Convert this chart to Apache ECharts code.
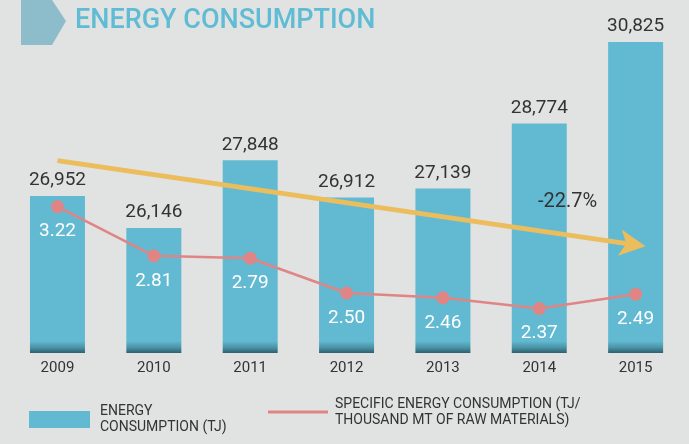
<!DOCTYPE html>
<html>
<head>
<meta charset="utf-8">
<script src="https://cdn.jsdelivr.net/npm/echarts@6/dist/echarts.min.js"></script>
<style>
  html, body { margin: 0; padding: 0; background: #e1e2e2; }
  #chart { width: 689px; height: 444px; }
</style>
</head>
<body>
<div id="chart"></div>
<script>
// data
const years = ['2009', '2010', '2011', '2012', '2013', '2014', '2015']
const energyTJ = [26952, 26146, 27848, 26912, 27139, 28774, 30825]
const specific = [3.22, 2.81, 2.79, 2.50, 2.46, 2.37, 2.49]
// trend arrow, in data units (category, TJ)
const trendStart = ['2009', 27840]
const trendEnd = ['2015', 25720]
const trendLabel = '-22.7%'

const barName = 'ENERGY CONSUMPTION (TJ)'
const lineName = 'SPECIFIC ENERGY CONSUMPTION (TJ/ THOUSAND MT OF RAW MATERIALS)'
const font = 'Roboto'

const chart = echarts.init(document.getElementById('chart'))
chart.setOption({
  backgroundColor: '#e1e2e2',
  animation: false,
  textStyle: { fontFamily: font },
  title: {
    text: 'ENERGY CONSUMPTION',
    left: 70, top: 3,
    textStyle: { color: '#5fbcd4', fontSize: 27, fontWeight: 500, fontFamily: font }
  },
  graphic: [
    {
      type: 'polygon',
      shape: { points: [[21, 0], [52, 0], [66, 21], [52, 45], [21, 45]] },
      style: { fill: '#8dbdcb' }
    },
    {
      type: 'text',
      left: 538, top: 192, z: 100,
      style: { text: trendLabel, fill: '#333', fontSize: 20, fontFamily: font }
    }
  ],
  legend: [
    {
      data: [barName],
      left: 29, top: 397, padding: 0,
      itemWidth: 61, itemHeight: 17,
      icon: 'rect',
      formatter: () => 'ENERGY\nCONSUMPTION (TJ)',
      textStyle: { color: '#333', fontSize: 14, lineHeight: 16, padding: [13, 0, 0, 5], fontFamily: font }
    },
    {
      data: [{ name: lineName, icon: 'rect' }],
      left: 268, top: 382, padding: 0,
      itemWidth: 60, itemHeight: 3,
      formatter: () => 'SPECIFIC ENERGY CONSUMPTION (TJ/\nTHOUSAND MT OF RAW MATERIALS)',
      textStyle: { color: '#333', fontSize: 14, lineHeight: 16, padding: [28, 0, 0, 2], fontFamily: font }
    }
  ],
  grid: { left: 9.3, right: 5.2, top: 35, bottom: 91 },
  xAxis: {
    type: 'category',
    data: years,
    axisLine: { show: false },
    axisTick: { show: false },
    axisLabel: { color: '#333', fontSize: 15, margin: 8, fontFamily: font }
  },
  yAxis: [
    { type: 'value', min: 23000, max: 31000, show: false, splitLine: { show: false } },
    { type: 'value', min: 2, max: 4.65, show: false, splitLine: { show: false } }
  ],
  series: [
    {
      name: barName,
      type: 'bar',
      data: energyTJ,
      barWidth: 55,
      itemStyle: {
        color: new echarts.graphic.LinearGradient(0, 341, 0, 353, [
          { offset: 0, color: '#62bad2' },
          { offset: 0.55, color: '#4a93a6' },
          { offset: 1, color: '#2f5f6b' }
        ], true)
      },
      label: {
        show: true,
        position: 'top',
        distance: 6,
        color: '#333',
        fontSize: 19,
        fontFamily: font,
        formatter: p => p.value.toLocaleString('en-US')
      },
      markLine: {
        silent: true,
        z: 4,
        symbol: ['none', 'arrow'],
        symbolSize: [20, 26],
        symbolOffset: [0, [0, -10]],
        label: { show: false },
        lineStyle: { color: '#ecbd5d', width: 5, type: 'solid' },
        data: [[{ coord: trendStart }, { coord: trendEnd }]]
      }
    },
    {
      name: lineName,
      type: 'line',
      yAxisIndex: 1,
      z: 5,
      data: specific,
      symbol: 'circle',
      symbolSize: 13,
      color: '#e08585',
      lineStyle: { color: '#e08585', width: 2.5 },
      itemStyle: { color: '#e08585' },
      label: {
        show: true,
        position: 'bottom',
        distance: 9,
        color: '#fff',
        fontSize: 19,
        fontFamily: font,
        formatter: p => p.value.toFixed(2)
      }
    }
  ]
})
window.addEventListener('resize', () => chart.resize())
</script>
</body>
</html>
